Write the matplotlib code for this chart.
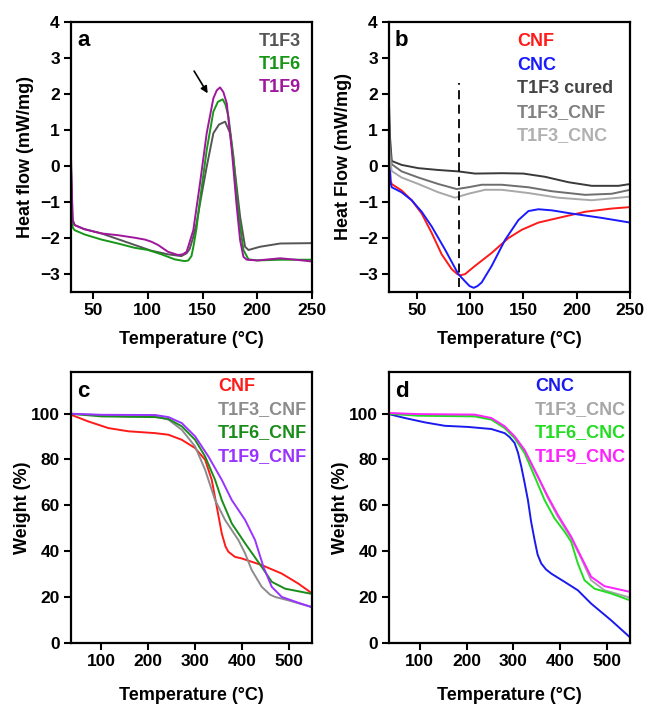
import numpy as np
import matplotlib
matplotlib.use('Agg')
import matplotlib.pyplot as plt

plt.rcParams['font.family'] = ['Liberation Sans', 'DejaVu Sans']
plt.rcParams['font.weight'] = 'bold'

# ---- panel a : DSC of uncured resins ----
a_x_t1f3 = [30, 31.5, 33.4, 42, 57.7, 72.9, 88.1, 103.3, 118.5, 130.7, 135.5, 138.3, 141.6, 144.5, 147.7,
            153.8, 159.9, 165, 170.6, 175.2, 179.7, 184.3, 188.8, 191.9, 202.5, 220.8, 250]
a_y_t1f3 = [0.0, -1.5, -1.64, -1.75, -1.87, -2.03, -2.19, -2.35, -2.45, -2.50, -2.42, -2.3, -1.96, -1.6, -1.04,
            -0.02, 0.91, 1.15, 1.23, 0.91, -0.2, -1.41, -2.24, -2.33, -2.24, -2.15, -2.14]
a_x_t1f6 = [30, 31.5, 33.3, 42.5, 57.7, 72.9, 88.1, 100.3, 112.5, 124.6, 133.8, 137, 139.9, 141.6, 144.4, 147.7,
            153.8, 159.9, 164, 168.4, 171, 173.6, 178.2, 182.7, 187.3, 191.9, 200, 220.8, 250]
a_y_t1f6 = [-0.5, -1.7, -1.78, -1.90, -2.04, -2.15, -2.27, -2.33, -2.45, -2.59, -2.64, -2.62, -2.5, -2.25, -1.75, -0.94,
            0.44, 1.51, 1.78, 1.85, 1.7, 1.37, 0.26, -1.31, -2.33, -2.59, -2.62, -2.6, -2.6]
a_x_t1f9 = [30, 31.5, 33.4, 42, 57.7, 72.9, 88.1, 97.3, 103.3, 109.4, 118.5, 127.7, 132, 135.5, 141.6, 147.7,
            153.8, 159.9, 163, 166, 169, 172.1, 176.7, 181.2, 184.3, 187.3, 190.4, 200, 220.8, 235, 250]
a_y_t1f9 = [0.3, -1.5, -1.64, -1.75, -1.87, -1.92, -1.99, -2.04, -2.1, -2.19, -2.38, -2.47, -2.45, -2.38, -1.78, -0.48,
            0.91, 1.88, 2.1, 2.18, 2.05, 1.74, 0.44, -1.13, -2.06, -2.52, -2.6, -2.62, -2.56, -2.6, -2.65]

# ---- panel b : DSC of fillers and cured composites ----
b_x_cured = [24, 25, 26.6, 35.9, 51.6, 70, 89, 104.7, 130, 150, 170.3, 192.2, 214, 239, 250]
b_y_cured = [1.8, 0.8, 0.14, 0.03, -0.06, -0.11, -0.15, -0.21, -0.2, -0.21, -0.3, -0.45, -0.55, -0.55, -0.5]
b_x_t1f3_cnf = [24, 25, 26.6, 35.9, 51.6, 70.3, 87.5, 98.4, 110.9, 129.7, 154.7, 176.6, 207.8, 232.8, 250]
b_y_t1f3_cnf = [1.2, 0.5, 0.05, -0.15, -0.32, -0.5, -0.64, -0.59, -0.52, -0.52, -0.59, -0.7, -0.8, -0.77, -0.66]
b_x_t1f3_cnc = [24, 25, 26.6, 35.9, 51.6, 70.3, 85.9, 98.4, 114, 129.7, 154.7, 182.8, 214, 250]
b_y_t1f3_cnc = [0.6, 0.2, -0.14, -0.32, -0.5, -0.73, -0.88, -0.77, -0.66, -0.66, -0.75, -0.88, -0.95, -0.85]
b_x_cnf = [24, 25.5, 26.6, 35.9, 45.3, 54.7, 64.1, 73.4, 82.8, 88, 91.2, 95.3, 104.7, 120.3, 135.9, 148.4,
           164, 182.8, 207.8, 232.8, 250]
b_y_cnf = [0.3, -0.4, -0.5, -0.68, -0.95, -1.32, -1.86, -2.45, -2.86, -3.0, -3.03, -3.0, -2.77, -2.41, -2.0, -1.77,
           -1.57, -1.44, -1.27, -1.18, -1.14]
b_x_cnc = [24, 25.5, 26.6, 35.9, 45.3, 54.7, 64.1, 76.6, 89, 95.3, 99.5, 103.4, 107, 110.9, 120.3, 132.8, 145.3,
           154.7, 164, 176.6, 195.3, 223.4, 250]
b_y_cnc = [0.7, -0.45, -0.59, -0.73, -0.95, -1.27, -1.68, -2.32, -3.0, -3.2, -3.33, -3.38, -3.33, -3.23, -2.77, -2.05, -1.5,
           -1.25, -1.2, -1.23, -1.32, -1.44, -1.57]
b_dash_x = 90
b_dash_y = [-3.35, 2.3]

# ---- panel c : TGA with CNF ----
c_x_cnf = [30, 36.7, 72, 115, 157.7, 214.6, 243, 271.5, 300, 321.4, 335.6, 346.3, 357, 365, 371.2, 385, 399.6,
           442.3, 485, 520.6, 550]
c_y_cnf = [99.8, 99.4, 96.6, 93.7, 92.3, 91.5, 90.8, 88.6, 85, 79.9, 71.1, 59.4, 47.7, 42, 39.7, 37.5, 36.8,
           33.9, 30.2, 25.8, 21.5]
c_x_t1f3 = [30, 100, 150, 214.6, 243, 271.5, 300, 321.4, 342.7, 364, 392.5, 406.8, 421, 442.3, 460, 470.8, 499.3, 550]
c_y_t1f3 = [100, 99.3, 98.8, 98.8, 97.4, 93, 85.7, 75.5, 62.3, 53.6, 44.8, 39, 31.7, 24.4, 21, 20, 18.5, 15.5]
c_x_t1f6 = [30, 100.7, 214.6, 243, 271.5, 300, 321.4, 342.7, 357, 378.3, 406.8, 442.3, 463.7, 492.2, 550]
c_y_t1f6 = [100, 98.8, 98.5, 97.7, 94.5, 88.6, 81.3, 71.1, 62.3, 52.1, 43.4, 33.1, 26.6, 23.6, 21.3]
c_x_t1f9 = [30, 100, 214.6, 243, 271.5, 300, 328.5, 357, 378.3, 406.8, 428.1, 446, 463.7, 485, 520, 550]
c_y_t1f9 = [100, 99.5, 99.4, 98.5, 95.9, 90.1, 81.3, 71.1, 62.3, 53.6, 44.8, 33.1, 24.4, 20, 17.5, 15.5]

# ---- panel d : TGA with CNC ----
d_x_cnc = [30, 68, 110.7, 153.4, 203.2, 253, 281.5, 292, 302.8, 310, 317.1, 324, 331.3, 338, 345.6, 352, 359.8,
           370, 381.1, 409.6, 438.1, 466.5, 509.3, 550]
d_y_cnc = [100, 98.1, 96.2, 94.7, 94.2, 93.3, 91.5, 89.8, 87.2, 83, 76.9, 70, 62.3, 53, 44.8, 38.5, 34.6,
           32, 30.2, 26.6, 22.9, 17.1, 9.8, 2.3]
d_x_t1f3 = [30, 100, 217.4, 253, 281.5, 302.8, 324.2, 352.7, 374, 395.4, 423.8, 445.2, 466.5, 495, 550]
d_y_t1f3 = [100.2, 99.5, 99.3, 97.8, 94.2, 89.8, 83.8, 72.2, 63.2, 55, 45.6, 36.8, 27.3, 22.9, 19.7]
d_x_t1f6 = [30, 96.4, 217.4, 253, 281.5, 302.8, 324.2, 345.6, 366.9, 388.3, 409.6, 423.8, 438.1, 452.3, 473.7,
            509.3, 550]
d_y_t1f6 = [100, 99.1, 98.8, 97.4, 93.7, 89.3, 82.8, 72.6, 62.3, 54.3, 48.5, 44.1, 34.6, 27.3, 23.6, 21.5, 18.5]
d_x_t1f9 = [30, 100, 217.4, 253, 281.5, 302.8, 324.2, 352.7, 374, 395.4, 423.8, 445.2, 466.5, 495, 550]
d_y_t1f9 = [100.3, 99.8, 99.6, 98.1, 94.5, 90.1, 84.2, 72.6, 63.8, 55.8, 46.3, 37.5, 28.8, 24.7, 22.2]

fig = plt.figure(figsize=(6.45, 7.04), dpi=100)
ax_a = fig.add_axes([0.110, 0.585, 0.374, 0.384])
ax_b = fig.add_axes([0.603, 0.585, 0.374, 0.384])
ax_c = fig.add_axes([0.110, 0.087, 0.374, 0.384])
ax_d = fig.add_axes([0.603, 0.087, 0.374, 0.384])

LW = 1.4
TICK_FS = 12.5
LABEL_FS = 13
LEG_FS = 13


def style(ax, letter, xpad=9):
    for s in ax.spines.values():
        s.set_linewidth(1.6)
    ax.tick_params(direction='out', length=5, width=1.5, labelsize=TICK_FS, top=False, right=False, pad=3)
    for lab in ax.get_xticklabels() + ax.get_yticklabels():
        lab.set_fontweight('bold')
    ax.set_xlabel('Temperature (°C)', fontsize=LABEL_FS, fontweight='bold', labelpad=xpad)
    ax.text(0.025, 0.93, letter, transform=ax.transAxes, fontsize=16, fontweight='bold', va='center')


def legend_text(ax, x0, y0, dy, labels, colors):
    for i, (lab, col) in enumerate(zip(labels, colors)):
        ax.text(x0, y0 - i * dy, lab, color=col, transform=ax.transAxes,
                fontsize=LEG_FS, fontweight='bold', va='center', ha='left')


# panel a
col_a = ['#555555', '#179617', '#a0169c']
ax_a.plot(a_x_t1f3, a_y_t1f3, color=col_a[0], lw=LW)
ax_a.plot(a_x_t1f6, a_y_t1f6, color=col_a[1], lw=LW)
ax_a.plot(a_x_t1f9, a_y_t1f9, color=col_a[2], lw=LW)
ax_a.annotate('', xy=(156, 1.95), xytext=(141, 2.7),
              arrowprops=dict(arrowstyle='-|>', color='k', lw=1.2, mutation_scale=10))
ax_a.set_xlim(30, 250)
ax_a.set_ylim(-3.5, 4)
ax_a.set_xticks([50, 100, 150, 200, 250])
ax_a.set_yticks(range(-3, 5))
ax_a.set_ylabel('Heat flow (mW/mg)', fontsize=LABEL_FS, fontweight='bold')
style(ax_a, 'a')
legend_text(ax_a, 0.78, 0.926, 0.085, ['T1F3', 'T1F6', 'T1F9'], col_a)

# panel b
ax_b.plot(b_x_cnf, b_y_cnf, color='#ff1a1a', lw=LW)
ax_b.plot(b_x_cnc, b_y_cnc, color='#1a1aff', lw=LW)
ax_b.plot(b_x_cured, b_y_cured, color='#3a3a3a', lw=LW)
ax_b.plot(b_x_t1f3_cnf, b_y_t1f3_cnf, color='#6e6e6e', lw=LW)
ax_b.plot(b_x_t1f3_cnc, b_y_t1f3_cnc, color='#a8a8a8', lw=LW)
ax_b.plot([b_dash_x, b_dash_x], b_dash_y, color='k', lw=1.3, ls=(0, (5, 3)))
ax_b.set_xlim(24, 250)
ax_b.set_ylim(-3.5, 4)
ax_b.set_xticks([50, 100, 150, 200, 250])
ax_b.set_yticks(range(-3, 5))
ax_b.set_ylabel('Heat Flow (mW/mg)', fontsize=LABEL_FS, fontweight='bold')
style(ax_b, 'b')
legend_text(ax_b, 0.531, 0.926, 0.087,
            ['CNF', 'CNC', 'T1F3 cured', 'T1F3_CNF', 'T1F3_CNC'],
            ['#ff1a1a', '#1a1aff', '#444444', '#808080', '#b0b0b0'])

# panel c
col_c = ['#ff1a1a', '#8c8c8c', '#1a8c1a', '#9933ff']
ax_c.plot(c_x_cnf, c_y_cnf, color=col_c[0], lw=LW)
ax_c.plot(c_x_t1f3, c_y_t1f3, color=col_c[1], lw=LW)
ax_c.plot(c_x_t1f6, c_y_t1f6, color=col_c[2], lw=LW)
ax_c.plot(c_x_t1f9, c_y_t1f9, color=col_c[3], lw=LW)
ax_c.set_xlim(35, 550)
ax_c.set_ylim(0, 118)
ax_c.set_xticks([100, 200, 300, 400, 500])
ax_c.set_yticks([0, 20, 40, 60, 80, 100])
ax_c.set_ylabel('Weight (%)', fontsize=LABEL_FS, fontweight='bold', labelpad=0)
style(ax_c, 'c', xpad=13)
legend_text(ax_c, 0.61, 0.948, 0.086, ['CNF', 'T1F3_CNF', 'T1F6_CNF', 'T1F9_CNF'], col_c)

# panel d
col_d = ['#1a1aee', '#a6a6a6', '#22dd22', '#ff22ff']
ax_d.plot(d_x_cnc, d_y_cnc, color=col_d[0], lw=LW)
ax_d.plot(d_x_t1f3, d_y_t1f3, color=col_d[1], lw=LW)
ax_d.plot(d_x_t1f6, d_y_t1f6, color=col_d[2], lw=LW)
ax_d.plot(d_x_t1f9, d_y_t1f9, color=col_d[3], lw=LW)
ax_d.set_xlim(34, 550)
ax_d.set_ylim(0, 118)
ax_d.set_xticks([100, 200, 300, 400, 500])
ax_d.set_yticks([0, 20, 40, 60, 80, 100])
ax_d.set_ylabel('Weight (%)', fontsize=LABEL_FS, fontweight='bold', labelpad=0)
style(ax_d, 'd', xpad=13)
legend_text(ax_d, 0.606, 0.948, 0.086, ['CNC', 'T1F3_CNC', 'T1F6_CNC', 'T1F9_CNC'], col_d)

fig.savefig('out.png', dpi=100)
